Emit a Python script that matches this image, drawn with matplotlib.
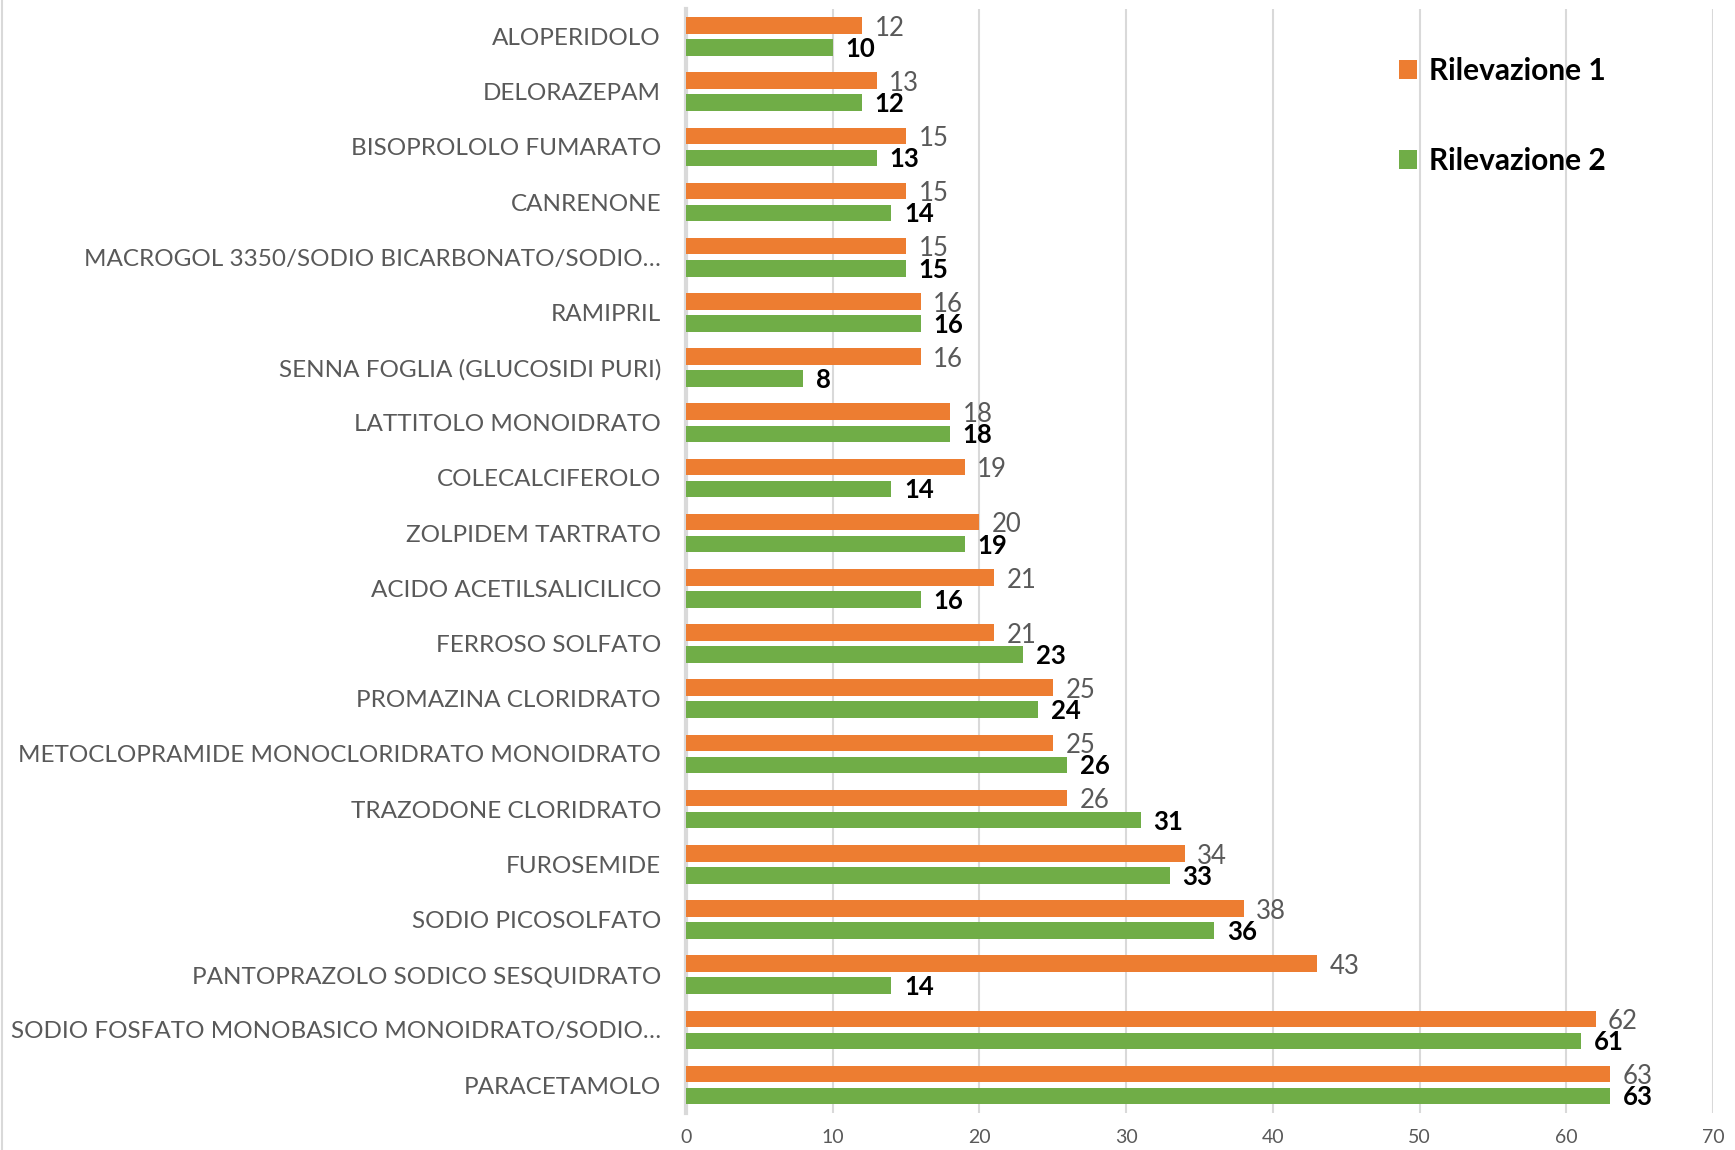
import matplotlib.pyplot as plt
import numpy as np

farmaci = [
    "ALOPERIDOLO",
    "DELORAZEPAM",
    "BISOPROLOLO FUMARATO",
    "CANRENONE",
    "MACROGOL 3350/SODIO BICARBONATO/SODIO…",
    "RAMIPRIL",
    "SENNA FOGLIA (GLUCOSIDI PURI)",
    "LATTITOLO MONOIDRATO",
    "COLECALCIFEROLO",
    "ZOLPIDEM TARTRATO",
    "ACIDO ACETILSALICILICO",
    "FERROSO SOLFATO",
    "PROMAZINA CLORIDRATO",
    "METOCLOPRAMIDE MONOCLORIDRATO MONOIDRATO",
    "TRAZODONE CLORIDRATO",
    "FUROSEMIDE",
    "SODIO PICOSOLFATO",
    "PANTOPRAZOLO SODICO SESQUIDRATO",
    "SODIO FOSFATO MONOBASICO MONOIDRATO/SODIO…",
    "PARACETAMOLO",
]
rilevazione_1 = [12, 13, 15, 15, 15, 16, 16, 18, 19, 20, 21, 21, 25, 25, 26, 34, 38, 43, 62, 63]
rilevazione_2 = [10, 12, 13, 14, 15, 16, 8, 18, 14, 19, 16, 23, 24, 26, 31, 33, 36, 14, 61, 63]
x_ticks = [0, 10, 20, 30, 40, 50, 60, 70]

ORANGE = "#ED7D31"
GREEN = "#70AD47"
GREY = "#595959"

plt.rcParams["font.family"] = ["Lato", "DejaVu Sans"]

fig = plt.figure(figsize=(17.35, 11.5), dpi=100)
ax = fig.add_axes([0.3954, 0.0325, 0.5919, 0.9598])

pos = np.arange(len(farmaci))
h = 0.30
b1 = ax.barh(pos - 0.2, rilevazione_1, height=h, color=ORANGE, label="Rilevazione 1", zorder=3)
b2 = ax.barh(pos + 0.2, rilevazione_2, height=h, color=GREEN, label="Rilevazione 2", zorder=3)

for rect, v in zip(b1, rilevazione_1):
    ax.annotate(str(v), (v, rect.get_y() + rect.get_height() / 2), xytext=(9, -2),
                textcoords="offset points", va="center", ha="left",
                fontsize=18.5, color=GREY)
for rect, v in zip(b2, rilevazione_2):
    ax.annotate(str(v), (v, rect.get_y() + rect.get_height() / 2), xytext=(9, -1),
                textcoords="offset points", va="center", ha="left",
                fontsize=18.5, color="black", fontweight="bold")

ax.set_xlim(0, 70)
ax.set_ylim(len(farmaci) - 0.5, -0.5)
ax.set_yticks(pos)
ax.set_yticklabels(farmaci, fontsize=17.5, color=GREY)
ax.set_xticks(x_ticks)
ax.set_xticklabels([str(t) for t in x_ticks], fontsize=14, color=GREY)
ax.tick_params(axis="y", length=0, pad=18)
ax.tick_params(axis="x", length=0, pad=12)

ax.grid(axis="x", color="#D9D9D9", linewidth=1.5, zorder=0)
for s in ["top", "right", "bottom"]:
    ax.spines[s].set_visible(False)
ax.spines["left"].set_color("#D9D9D9")
ax.spines["left"].set_linewidth(3)

ax.legend(loc="upper left", bbox_to_anchor=(0.668, 0.981), frameon=False,
          prop={"size": 21.5, "weight": "bold"}, handlelength=0.6, handleheight=0.6,
          handletextpad=0.4, labelspacing=2.1)

# bordo sinistro del grafico
fig.add_artist(plt.Line2D([0.001, 0.001], [0, 1], color="#D9D9D9", linewidth=1.5))

fig.savefig("out.png", dpi=100)
